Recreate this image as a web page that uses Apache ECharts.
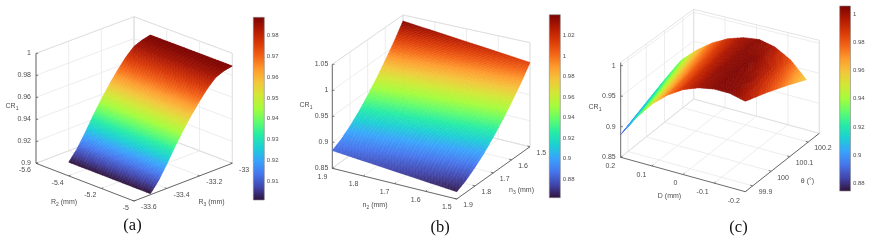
<!DOCTYPE html>
<html><head><meta charset="utf-8">
<style>html,body{margin:0;padding:0;background:#fff}#c{width:872px;height:240px;filter:blur(0.45px)}</style>
<script src="https://cdn.jsdelivr.net/npm/echarts@6/dist/echarts.min.js"></script>
</head><body><div id="c"></div>
<script>
// ---------- data ----------
const turbo = ['#30123b','#4145ab','#4675ed','#39a2fc','#1bcfd4','#24eca6','#61fc6c','#a4fc3b','#d1e835','#f3c63a','#fe9b2d','#f36315','#d93806','#b11901','#7a0403'];

const zTicksA = [0.9,0.92,0.94,0.96,0.98,1];
const r2Ticks = [-5.6,-5.4,-5.2,-5];
const r3Ticks = [-33.6,-33.4,-33.2,-33];
const r2Samples = [-5.5,-5.25,-5];
const r3Samples = [-33.5,-33.45,-33.4,-33.35,-33.3,-33.25,-33.2,-33.15,-33.1,-33.05,-33];
const crA_r2m55 = [.901,.910,.922,.935,.947,.958,.968,.977,.984,.987,.9888];
const crA_r2m525 = [.901,.910,.922,.935,.947,.958,.968,.977,.984,.987,.9887];
const crA_r2m5 = [.9009,.910,.922,.935,.947,.958,.968,.977,.984,.987,.9885];
const cbTicksA = [.91,.92,.93,.94,.95,.96,.97,.98];

const zTicksB = [.85,.9,.95,1,1.05];
const n2Ticks = [1.9,1.8,1.7,1.6,1.5];
const n3Ticks = [1.9,1.8,1.7,1.6,1.5];
const n2Samples = [1.9,1.7,1.5];
const n3Samples = [1.9,1.85,1.8,1.75,1.7,1.65,1.6,1.55,1.5];
const crB_n219 = [.884,.893,.906,.922,.941,.962,.985,1.010,1.038];
const crB_n217 = [.874,.883,.896,.911,.930,.950,.973,.997,1.025];
const crB_n215 = [.864,.873,.886,.901,.919,.939,.961,.985,1.012];
const cbTicksB = [.88,.9,.92,.94,.96,.98,1,1.02];

const zTicksC = [.85,.9,.95,1];
const dTicks = [.2,.1,0,-.1,-.2];
const thetaTicks = [99.9,100,100.1,100.2];
const dSamples = [.2,.15,.1,.05,0,-.05,-.1,-.15,-.2];
const thetaSamples = [99.86,99.97,100.08,100.19];
const crC_t999 = [.887,.922,.951,.973,.989,.999,1.004,1.004,.998];
const crC_t100 = [.903,.934,.960,.979,.993,1.002,1.005,1.002,.986];
const crC_t1001 = [.919,.947,.969,.985,.997,1.003,1.004,.994,.972];
const crC_t1002 = [.9335,.958,.977,.991,.9995,1.003,.997,.982,.956];
const cbTicksC = [.88,.9,.92,.94,.96,.98,1];

// ---------- layout of the three projected boxes (page pixels) ----------
const panels = [
 {xs:r2Samples, ys:r3Samples, z:[crA_r2m55,crA_r2m525,crA_r2m5], xLim:[-5.6,-5], yLim:[-33.6,-33], zLim:[.9,1],
  xT:r2Ticks, yT:r3Ticks, zT:zTicksA,
  L:[36,163.3], B:[134,201], R:[232.3,163.3], K:[134,125.7], h:[110,110,110,109],
  xOff:[-5,7], yOff:[6.8,6.5], zOff:-5,
  xName:['R','2',' (mm)',64,202], yName:['R','3',' (mm)',211.5,202], zName:[12,106], cap:['(a)',132.5,226]},
 {xs:n2Samples, ys:n3Samples, z:[crB_n219,crB_n217,crB_n215], xLim:[1.9,1.5], yLim:[1.9,1.5], zLim:[.85,1.05],
  xT:n2Ticks, yT:n3Ticks, zT:zTicksB,
  L:[332.3,168.3], B:[456.7,199], R:[530,146.7], K:[403,116], h:[104,104,104,101],
  xOff:[-5,8.5], yOff:[6.5,6.5], zOff:-4,
  xName:['n','2',' (mm)',375,205], yName:['n','3',' (mm)',521.5,190], zName:[306,105], cap:['(b)',440,228]},
 {xs:dSamples, ys:thetaSamples, z:[crC_t999,crC_t100,crC_t1001,crC_t1002], xLim:[.2,-.2], yLim:[99.86,100.26], zLim:[.85,1.005], swap:true,
  xT:dTicks, yT:thetaTicks, zT:zTicksC,
  L:[620.7,157.3], B:[745.3,191.7], R:[819.3,133.3], K:[693.7,99], h:[94.7,94.7,93,89.7],
  xOff:[-5.5,9], yOff:[6,6.5], zOff:-5,
  xName:['D','',' (mm)',669.5,196], yName:['\u03b8','',' (\u00b0)',807.5,181.5], zName:[595,107], cap:['(c)',738.5,228]}
];
const colorbars = [
 {left:253.3,top:17.3,width:11,height:182.7,min:.9009,max:.9888,ticks:cbTicksA},
 {left:549.3,top:14.7,width:11,height:183,min:.862,max:1.0401,ticks:cbTicksB},
 {left:839.7,top:6,width:10.8,height:185,min:.8745,max:1.0058,ticks:cbTicksC}
];
const surfaceRange = colorbars;

// ---------- helpers ----------
function hex(c){return [1,3,5].map(i=>parseInt(c.substr(i,2),16));}
const turboRGB = turbo.map(hex);
function colorAt(t){
  t=Math.max(0,Math.min(1,t))*(turboRGB.length-1);
  const i=Math.min(turboRGB.length-2,Math.floor(t)),f=t-i;
  const a=turboRGB[i],b=turboRGB[i+1];
  return 'rgb('+a.map((v,k)=>Math.round(v+(b[k]-v)*f)).join(',')+')';
}
function project(p,a,b,zv){ // a along L->B, b along L->K
  const f=(k)=> (1-a)*(1-b)*p.L[k]+a*(1-b)*p.B[k]+a*b*p.R[k]+(1-a)*b*p.K[k];
  const h=(1-a)*(1-b)*p.h[0]+a*(1-b)*p.h[1]+a*b*p.h[2]+(1-a)*b*p.h[3];
  const zt=(zv-p.zLim[0])/(p.zLim[1]-p.zLim[0]);
  return [f(0),f(1)-zt*h];
}
const frac=(v,l)=>(v-l[0])/(l[1]-l[0]);
function bil(m,i,j,s,t){
  return (1-s)*(1-t)*m[i][j]+s*(1-t)*m[i+1][j]+s*t*m[i+1][j+1]+(1-s)*t*m[i][j+1];
}
const font='Liberation Sans, Arial, sans-serif';
const axisCol='#5a5a5a', gridCol='#e8e8e8', wallCol='#dcdcdc', textCol='#4d4d4d';

function surfaceChildren(idx,api){
  const p=panels[idx], cb=surfaceRange[idx], out=[];
  const nx=p.xs.length, ny=p.ys.length, xDiv=idx===2?10:12, yDiv=idx===2?12:14;
  for(let j=ny-2;j>=0;j--) for(let y=yDiv-1;y>=0;y--) for(let i=0;i<nx-1;i++) for(let x=0;x<xDiv;x++){
    const s0=x/xDiv,s1=(x+1)/xDiv,t0=y/yDiv,t1=(y+1)/yDiv;
    const m=p.z;
    const A=k=>{const u=p.xs[i]+(p.xs[i+1]-p.xs[i])*k;return frac(u,p.xLim);};
    const Bb=k=>{const u=p.ys[j]+(p.ys[j+1]-p.ys[j])*k;return frac(u,p.yLim);};
    const val=(s,t)=>p.swap?((1-s)*(1-t)*m[j][i]+s*(1-t)*m[j][i+1]+s*t*m[j+1][i+1]+(1-s)*t*m[j+1][i]):bil(m,i,j,s,t);
    const pts=[[s0,t0],[s1,t0],[s1,t1],[s0,t1]].map(q=>api.coord(project(p,A(q[0]),Bb(q[1]),val(q[0],q[1]))));
    const col=colorAt((val((s0+s1)/2,(t0+t1)/2)-cb.min)/(cb.max-cb.min));
    out.push({type:'polygon',shape:{points:pts},style:{fill:col,stroke:col,lineWidth:.5},silent:true});
  }
  return out;
}
function line(a,b,col,w,api){
  const p1=api.coord(a),p2=api.coord(b);
  return {type:'line',shape:{x1:p1[0],y1:p1[1],x2:p2[0],y2:p2[1]},style:{stroke:col,lineWidth:w},silent:true};
}
function txt(s,pt,size,align,api,extra){
  const c=api.coord(pt);
  return {type:'text',silent:true,style:Object.assign({text:s,x:c[0],y:c[1],fill:textCol,font:size+'px '+font,align:align,verticalAlign:'middle'},extra||{})};
}
function boxChildren(idx,api){
  const p=panels[idx], o=[], zMax=p.zLim[1], zMin=p.zLim[0];
  p.zT.forEach(z=>{
    o.push(line(project(p,0,0,z),project(p,0,1,z),gridCol,.8,api));
    o.push(line(project(p,0,1,z),project(p,1,1,z),gridCol,.8,api));
  });
  p.xT.forEach(v=>{const a=frac(v,p.xLim);
    o.push(line(project(p,a,0,zMin),project(p,a,1,zMin),gridCol,.8,api));
    o.push(line(project(p,a,1,zMin),project(p,a,1,zMax),gridCol,.8,api));
  });
  p.yT.forEach(v=>{const b=frac(v,p.yLim);
    o.push(line(project(p,0,b,zMin),project(p,1,b,zMin),gridCol,.8,api));
    o.push(line(project(p,0,b,zMin),project(p,0,b,zMax),gridCol,.8,api));
  });
  [[0,0,0,1],[0,1,1,1]].forEach(e=>o.push(line(project(p,e[0],e[1],zMax),project(p,e[2],e[3],zMax),wallCol,.8,api)));
  o.push(line(project(p,0,1,zMin),project(p,0,1,zMax),wallCol,.8,api));
  o.push(line(project(p,1,1,zMin),project(p,1,1,zMax),wallCol,.8,api));
  o.push(line(project(p,0,0,zMin),project(p,0,1,zMin),wallCol,.8,api));
  o.push(line(project(p,0,1,zMin),project(p,1,1,zMin),wallCol,.8,api));
  o.push(line(project(p,0,0,zMin),project(p,0,0,zMax),axisCol,.9,api));
  o.push(line(project(p,0,0,zMin),project(p,1,0,zMin),axisCol,.9,api));
  o.push(line(project(p,1,0,zMin),project(p,1,1,zMin),axisCol,.9,api));
  p.zT.forEach(z=>{
    const q=project(p,0,0,z);
    o.push(line(q,[q[0]+2.2,q[1]],axisCol,.8,api));
    o.push(txt(String(z),[q[0]+p.zOff,q[1]],7,'right',api));
  });
  p.xT.forEach(v=>{const a=frac(v,p.xLim),q=project(p,a,0,zMin);
    o.push(line(q,project(p,a,.02,zMin),axisCol,.8,api));
    o.push(txt(String(v),[q[0]+p.xOff[0],q[1]+p.xOff[1]],7,'right',api));
  });
  p.yT.forEach(v=>{const b=frac(v,p.yLim),q=project(p,1,b,zMin);
    o.push(line(q,project(p,.98,b,zMin),axisCol,.8,api));
    o.push(txt(String(v),[q[0]+p.yOff[0],q[1]+p.yOff[1]],7,'left',api));
  });
  const rich={s:{fontSize:5,fontFamily:font,fill:textCol,verticalAlign:'bottom',padding:[5,0,0,0]},n:{fontSize:7,fontFamily:font,fill:textCol}};
  const nm=(a,b,c)=> '{n|'+a+'}'+(b?'{s|'+b+'}':'')+'{n|'+c+'}';
  o.push(txt(nm(p.xName[0],p.xName[1],p.xName[2]),[p.xName[3],p.xName[4]],7,'center',api,{rich}));
  o.push(txt(nm(p.yName[0],p.yName[1],p.yName[2]),[p.yName[3],p.yName[4]],7,'center',api,{rich}));
  o.push(txt(nm('CR','1',''),[p.zName[0],p.zName[1]],7,'center',api,{rich}));
  return o;
}

const option={
  animation:false,
  grid:[{left:0,top:0,width:872,height:240}].concat(colorbars.map(c=>({left:c.left,top:c.top,width:c.width,height:c.height}))),
  xAxis:[{type:'value',min:0,max:872,show:false,gridIndex:0}].concat(colorbars.map((c,i)=>({type:'value',min:0,max:1,show:false,gridIndex:i+1}))),
  yAxis:[{type:'value',min:0,max:240,inverse:true,show:false,gridIndex:0}].concat(colorbars.map((c,i)=>({
    type:'value',min:c.min,max:c.max,position:'right',gridIndex:i+1,splitLine:{show:false},
    axisLine:{show:false},
    axisTick:{show:true,inside:false,length:1.2,customValues:c.ticks,lineStyle:{color:'#777',width:.6}},
    axisLabel:{show:true,customValues:c.ticks,fontSize:6,fontFamily:font,color:textCol,margin:2.5,formatter:v=>String(v)}
  }))),
  series:[]
};
panels.forEach((p,idx)=>{
  option.series.push({type:'custom',coordinateSystem:'cartesian2d',xAxisIndex:0,yAxisIndex:0,clip:false,silent:true,data:[[0,0]],z:2,
    renderItem:(params,api)=>({type:'group',children:boxChildren(idx,api)})});
  option.series.push({type:'custom',coordinateSystem:'cartesian2d',xAxisIndex:0,yAxisIndex:0,clip:false,silent:true,data:[[0,0]],z:3,
    renderItem:(params,api)=>({type:'group',children:surfaceChildren(idx,api)})});
  const cap=p.cap;
  option.series.push({type:'custom',coordinateSystem:'cartesian2d',xAxisIndex:0,yAxisIndex:0,clip:false,silent:true,data:[[0,0]],z:4,
    renderItem:(params,api)=>{const c=api.coord([cap[1],cap[2]]);return {type:'text',silent:true,style:{text:cap[0],x:c[0],y:c[1],fill:'#111',font:'16.5px Liberation Serif, Times New Roman, serif',align:'center',verticalAlign:'middle'}};}});
});
colorbars.forEach((c,i)=>{
  option.series.push({type:'custom',coordinateSystem:'cartesian2d',xAxisIndex:i+1,yAxisIndex:i+1,silent:true,data:[[0,c.min]],z:2,
    renderItem:(params,api)=>{
      const a=api.coord([0,c.max]),b=api.coord([1,c.min]);
      return {type:'rect',shape:{x:a[0],y:a[1],width:b[0]-a[0],height:b[1]-a[1]},
        style:{stroke:'#888',lineWidth:.6,fill:new echarts.graphic.LinearGradient(0,1,0,0,turbo.map((col,k)=>({offset:k/(turbo.length-1),color:col})))}};
    }});
});
const chart=echarts.init(document.getElementById('c'),null,{renderer:'canvas'});
chart.setOption(option);
</script></body></html>
